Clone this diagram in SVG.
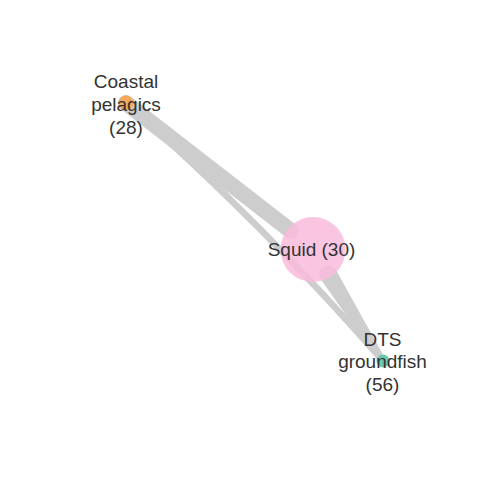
<svg xmlns="http://www.w3.org/2000/svg" width="480" height="480" viewBox="0 0 480 480">
<style>
.edge{fill:#cdcdcd;stroke:none}
.edgeline{stroke:#cdcdcd;fill:none;stroke-linecap:round}
.lbl{font-family:"Liberation Sans",Arial,Helvetica,sans-serif;font-size:19px;fill:#333333;text-anchor:middle}
</style>
<rect width="480" height="480" fill="#ffffff"/>
<g id="edges">
<path id="edge-coastal-dts" class="edgeline" d="M126,103 Q263,223.5 383,361" stroke-width="6.5"/>
<line id="edge-coastal-squid" class="edgeline" x1="126" y1="103" x2="291" y2="231" stroke-width="16"/>
<g id="edge-squid-dts">
<polygon class="edge" points="320.38,278.79 379.04,361.86 384.96,358.14 335.62,269.21"/>
<circle class="edge" cx="328" cy="274" r="9"/>
<circle class="edge" cx="382" cy="360" r="3.5"/>
</g>
</g>
<g id="node-coastal">
<circle cx="126" cy="103" r="7.5" fill="#f6a85a"/>
<text class="lbl" x="126" y="88">Coastal</text>
<text class="lbl" x="126" y="111">pelagics</text>
<text class="lbl" x="126" y="134">(28)</text>
</g>
<g id="node-squid">
<circle cx="313" cy="249.5" r="32.5" fill="#f8bbdc" fill-opacity="0.85"/>
<text class="lbl" x="311.5" y="256">Squid (30)</text>
</g>
<g id="node-dts">
<circle cx="383" cy="361" r="6.5" fill="#69c9a8"/>
<text class="lbl" x="382.5" y="346">DTS</text>
<text class="lbl" x="382.5" y="368">groundfish</text>
<text class="lbl" x="382.5" y="391">(56)</text>
</g>
</svg>
